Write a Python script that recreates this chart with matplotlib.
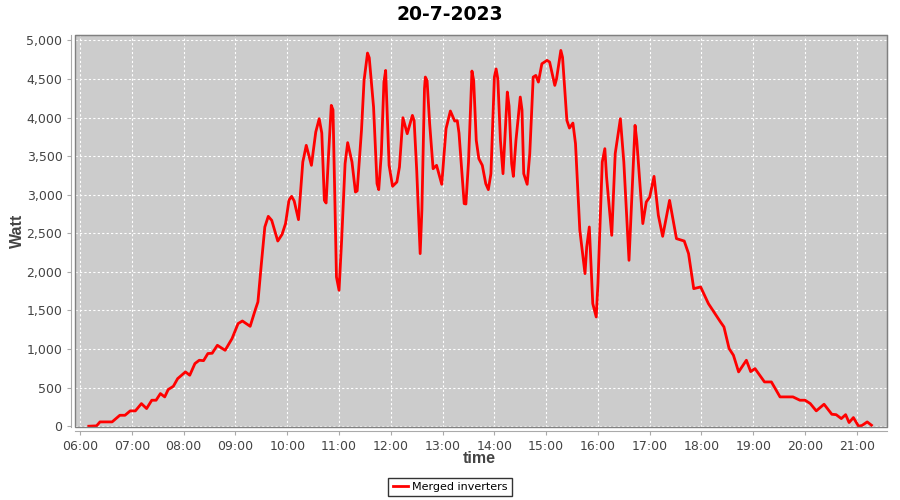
import pandas as pd
import matplotlib
matplotlib.use("Agg")
import matplotlib.pyplot as plt
import matplotlib.dates as mdates
from matplotlib.patches import Rectangle

day = "2023-07-20"
times = ["06:10", "06:19", "06:23", "06:37", "06:46", "06:52", "06:58", "07:04", "07:11", "07:17",
         "07:23", "07:28", "07:33", "07:38", "07:42", "07:48", "07:53", "08:02", "08:07", "08:13",
         "08:18", "08:23", "08:28", "08:33", "08:39", "08:48", "08:56", "09:03", "09:08", "09:17",
         "09:23", "09:26", "09:30", "09:34", "09:38", "09:42", "09:49", "09:54", "09:58", "10:02",
         "10:05", "10:08", "10:13", "10:18", "10:22", "10:28", "10:33", "10:37", "10:40", "10:43",
         "10:45", "10:48", "10:51", "10:53", "10:57", "11:00", "11:03", "11:07", "11:10", "11:15",
         "11:19", "11:21", "11:26", "11:29", "11:33", "11:35", "11:40", "11:44", "11:46", "11:49",
         "11:52", "11:54", "11:58", "12:02", "12:07", "12:10", "12:14", "12:19", "12:25", "12:27",
         "12:30", "12:34", "12:36", "12:39", "12:40", "12:42", "12:45", "12:49", "12:53", "12:59",
         "13:04", "13:09", "13:14", "13:17", "13:19", "13:25", "13:27", "13:30", "13:34", "13:36",
         "13:39", "13:42", "13:46", "13:50", "13:53", "13:56", "14:00", "14:02", "14:04", "14:07",
         "14:10", "14:15", "14:17", "14:20", "14:22", "14:25", "14:30", "14:32", "14:34", "14:38",
         "14:41", "14:45", "14:48", "14:51", "14:55", "15:01", "15:04", "15:10", "15:12", "15:17",
         "15:19", "15:24", "15:27", "15:31", "15:34", "15:39", "15:45", "15:47", "15:50", "15:54",
         "15:58", "16:00", "16:05", "16:08", "16:10", "16:16", "16:20", "16:26", "16:30", "16:36",
         "16:40", "16:43", "16:45", "16:52", "16:56", "17:00", "17:05", "17:10", "17:15", "17:23",
         "17:31", "17:40", "17:45", "17:51", "17:59", "18:08", "18:22", "18:26", "18:32", "18:37",
         "18:43", "18:52", "18:57", "19:02", "19:13", "19:21", "19:31", "19:46", "19:54", "20:00",
         "20:06", "20:13", "20:22", "20:31", "20:36", "20:42", "20:47", "20:51", "20:56", "21:02",
         "21:06", "21:12", "21:17"]
watt = [0, 5, 56, 56, 142, 142, 199, 199, 293, 229,
        337, 337, 423, 380, 475, 518, 617, 704, 661, 812,
        855, 850, 942, 946, 1049, 984, 1136, 1330, 1364, 1295,
        1511, 1611, 2107, 2582, 2720, 2668, 2400, 2487, 2626, 2930,
        2979, 2920, 2677, 3424, 3640, 3381, 3812, 3985, 3800, 2927,
        2893, 3553, 4158, 4100, 1934, 1762, 2409, 3403, 3675, 3424,
        3035, 3050, 3834, 4482, 4836, 4775, 4136, 3144, 3066, 3532,
        4460, 4611, 3381, 3109, 3165, 3359, 3998, 3791, 4028, 3960,
        3316, 2237, 2800, 4374, 4525, 4480, 3921, 3337, 3381, 3135,
        3856, 4085, 3955, 3960, 3800, 2885, 2880, 3424, 4603, 4480,
        3705, 3467, 3381, 3144, 3066, 3273, 4525, 4630, 4500, 3705,
        3273, 4331, 4150, 3403, 3238, 3705, 4266, 4100, 3273, 3135,
        3532, 4525, 4546, 4460, 4697, 4741, 4720, 4417, 4500, 4870,
        4780, 3964, 3864, 3929, 3662, 2539, 1978, 2323, 2582, 1589,
        1416, 1848, 3424, 3597, 3230, 2474, 3532, 3985, 3424, 2150,
        3144, 3899, 3700, 2626, 2906, 2970, 3238, 2733, 2461, 2927,
        2431, 2400, 2237, 1783, 1805, 1589, 1351, 1287, 1006, 920,
        704, 855, 708, 747, 574, 574, 380, 380, 337, 337,
        294, 199, 285, 155, 150, 99, 150, 48, 112, 0,
        10, 56, 13]

t = pd.to_datetime([day + " " + s for s in times])

fig = plt.figure(figsize=(9, 5), dpi=100)
ax = fig.add_axes([0.0833, 0.146, 0.9023, 0.784])
ax.set_facecolor("#cccccc")

ax.plot(t, watt, color="red", lw=2, solid_joinstyle="round", label="Merged inverters")

ax.set_xlim(pd.Timestamp(day + " 05:54"), pd.Timestamp(day + " 21:35"))
ax.set_ylim(-10, 5070)
ax.xaxis.set_major_locator(mdates.HourLocator())
ax.xaxis.set_major_formatter(mdates.DateFormatter("%H:%M"))
ax.yaxis.set_major_locator(plt.MultipleLocator(500))
ax.yaxis.set_major_formatter(plt.FuncFormatter(lambda v, p: f"{int(v):,}"))

ax.grid(True, color="white", ls=(0, (2, 2)), lw=0.8)

# plot border plus offset axis lines, jfreechart style
for side in ["left", "bottom"]:
    ax.spines[side].set_position(("outward", 3))
    ax.spines[side].set_color("#aaaaaa")
for side in ["top", "right"]:
    ax.spines[side].set_color("#808080")
ax.add_patch(Rectangle((0, 0), 1, 1, transform=ax.transAxes, fill=False,
                       edgecolor="#808080", lw=1, clip_on=False, zorder=5))
ax.tick_params(colors="#aaaaaa", labelcolor="#444444", labelsize=9, length=3, pad=3)

ax.set_xlabel("time", fontsize=11.5, fontweight="bold", color="#444444", family="Liberation Sans")
ax.set_ylabel("Watt", fontsize=11.5, fontweight="bold", color="#444444", family="Liberation Sans")
ax.xaxis.set_label_coords(0.4976, -0.062)
ax.yaxis.set_label_coords(-0.062, 0.5)
fig.suptitle("20-7-2023", fontsize=13.5, fontweight="bold", y=0.99)

leg = fig.legend(loc="lower center", bbox_to_anchor=(0.5, -0.004), fontsize=8, fancybox=False,
                 handlelength=1.4, borderpad=0.4, handletextpad=0.3)
leg.get_frame().set_edgecolor("black")
leg.get_frame().set_linewidth(1)

fig.savefig("out.png", dpi=100)
